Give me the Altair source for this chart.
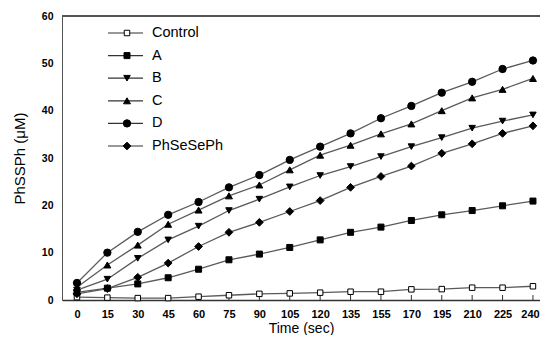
import altair as alt
import pandas as pd

times = [0, 15, 30, 45, 60, 75, 90, 105, 120, 135, 155, 170, 195, 210, 225, 240]
series_names = ["Control", "A", "B", "C", "D", "PhSeSePh"]
control = [0.6, 0.5, 0.4, 0.4, 0.7, 1.0, 1.3, 1.4, 1.55, 1.75, 1.75, 2.25, 2.3, 2.6, 2.6, 2.9]
a_vals = [1.6, 2.5, 3.4, 4.7, 6.5, 8.5, 9.7, 11.1, 12.7, 14.3, 15.4, 16.8, 18.0, 18.9, 19.9, 20.9]
b_vals = [2.1, 4.4, 8.8, 12.7, 15.6, 18.9, 21.3, 23.9, 26.3, 28.2, 30.3, 32.4, 34.3, 36.3, 37.8, 39.1]
c_vals = [2.7, 7.4, 11.6, 16.0, 19.0, 22.0, 24.3, 27.5, 30.6, 32.7, 35.1, 37.2, 40.0, 42.7, 44.5, 46.8]
d_vals = [3.6, 10.0, 14.4, 18.0, 20.7, 23.8, 26.4, 29.6, 32.4, 35.2, 38.4, 41.0, 43.8, 46.1, 48.8, 50.6]
ph_vals = [1.3, 2.4, 4.8, 7.8, 11.3, 14.3, 16.4, 18.7, 21.0, 23.8, 26.1, 28.3, 31.0, 33.0, 35.2, 36.8]

values = {"Control": control, "A": a_vals, "B": b_vals, "C": c_vals, "D": d_vals, "PhSeSePh": ph_vals}
rows = []
for name in series_names:
    for t, v in zip(times, values[name]):
        rows.append({"time": str(t), "series": name, "value": v})
df = pd.DataFrame(rows)
time_labels = [str(t) for t in times]

shape_scale = alt.Scale(domain=series_names,
                        range=["square", "square", "triangle-down", "triangle-up", "circle", "diamond"])
fill_scale = alt.Scale(domain=series_names,
                       range=["white", "black", "black", "black", "black", "black"])
size_scale = alt.Scale(domain=series_names, range=[30, 60, 55, 55, 60, 38])

W, H = 478, 284
FONT = "Liberation Sans"

x_enc = alt.X("time:N", sort=time_labels,
              scale=alt.Scale(type="point", padding=0.362, align=0.68),
              axis=alt.Axis(title="Time (sec)", labelAngle=0, ticks=False,
                            labelFontSize=11, labelFontWeight="bold", labelPadding=8,
                            labelOffset=alt.expr("datum.value == '240' ? -3 : 0"),
                            titleFontSize=14, titleFontWeight="normal", titlePadding=2,
                            domainColor="#333", domainWidth=1.5, grid=False))
y_enc = alt.Y("value:Q", scale=alt.Scale(domain=[0, 60], nice=False),
              axis=alt.Axis(title="PhSSPh (\u03bcM)", values=[0, 10, 20, 30, 40, 50, 60],
                            ticks=False, grid=False, labelFontSize=10.5, labelFontWeight="bold",
                            labelPadding=9, titleFontSize=15, titleFontWeight="normal",
                            titlePadding=14, domainColor="#555", domainWidth=1))

lines = alt.Chart(df).mark_line(color="#5a5a5a", strokeWidth=1.3).encode(
    x=x_enc, y=y_enc, detail="series:N")

tick_df = pd.DataFrame({"time": time_labels})
ticks = alt.Chart(tick_df).mark_rule(color="#333", strokeWidth=1).encode(
    x=alt.X("time:N", sort=time_labels), y=alt.value(H), y2=alt.value(H - 5))

points = alt.Chart(df).mark_point(stroke="black", strokeWidth=1, opacity=1, fillOpacity=1).encode(
    x=alt.X("time:N", sort=time_labels),
    y="value:Q",
    shape=alt.Shape("series:N", scale=shape_scale, legend=None),
    fill=alt.Fill("series:N", scale=fill_scale, legend=None),
    size=alt.Size("series:N", scale=size_scale, legend=None),
)

top_border = alt.Chart(tick_df).mark_rule(color="#555", strokeWidth=1.5).encode(
    x=alt.value(0), x2=alt.value(W), y=alt.value(0))

leg_df = pd.DataFrame({"series": series_names})
leg_y = alt.Y("series:N", sort=series_names,
              scale=alt.Scale(type="point", domain=series_names, range=[17, 130], padding=0),
              axis=None)
leg_lines = alt.Chart(leg_df).mark_rule(color="#333", strokeWidth=1.2).encode(
    x=alt.value(46), x2=alt.value(81), y=leg_y)
leg_pts = alt.Chart(leg_df).mark_point(stroke="black", strokeWidth=1, opacity=1, fillOpacity=1).encode(
    x=alt.value(65), y=leg_y,
    shape=alt.Shape("series:N", scale=shape_scale, legend=None),
    fill=alt.Fill("series:N", scale=fill_scale, legend=None),
    size=alt.Size("series:N", scale=size_scale, legend=None))
leg_txt = alt.Chart(leg_df).mark_text(align="left", baseline="middle", fontSize=14.5, font=FONT,
                                      color="black").encode(
    x=alt.value(90), y=leg_y, text="series:N")

main = alt.layer(lines, ticks, points, top_border)
legend = alt.layer(leg_lines, leg_pts, leg_txt)

chart = alt.layer(main, legend).resolve_scale(y="independent").properties(
    width=W, height=H,
    autosize=alt.AutoSizeParams(type="none"),
    padding={"left": 54, "top": 8, "right": 0, "bottom": 35},
).configure_view(stroke=None).configure(font=FONT).configure_axis(labelFont=FONT, titleFont=FONT)

chart.save("out.html", embed_options={"renderer": "svg", "actions": False})
